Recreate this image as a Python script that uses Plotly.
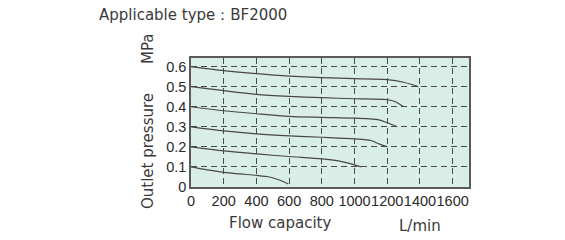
import plotly.graph_objects as go

# Data (flow L/min, outlet pressure MPa)
flow_06 = [0, 200, 400, 600, 800, 1000, 1200, 1300, 1390]
pres_06 = [0.6, 0.58, 0.565, 0.553, 0.545, 0.54, 0.535, 0.522, 0.5]

flow_05 = [0, 200, 400, 600, 800, 1000, 1200, 1250, 1300]
pres_05 = [0.5, 0.48, 0.462, 0.452, 0.445, 0.44, 0.435, 0.425, 0.4]

flow_04 = [0, 200, 400, 600, 800, 1000, 1150, 1200, 1260]
pres_04 = [0.4, 0.38, 0.365, 0.352, 0.347, 0.343, 0.335, 0.32, 0.3]

flow_03 = [0, 200, 400, 600, 800, 1000, 1100, 1150, 1200]
pres_03 = [0.3, 0.28, 0.265, 0.255, 0.248, 0.24, 0.232, 0.215, 0.2]

flow_02 = [0, 200, 400, 600, 800, 900, 980, 1040]
pres_02 = [0.2, 0.18, 0.165, 0.152, 0.14, 0.13, 0.115, 0.1]

flow_01 = [0, 100, 200, 300, 400, 480, 540, 595]
pres_01 = [0.1, 0.085, 0.073, 0.065, 0.058, 0.05, 0.035, 0.015]

x_ticks = [0, 200, 400, 600, 800, 1000, 1200, 1400, 1600]
y_ticks = [0, 0.1, 0.2, 0.3, 0.4, 0.5, 0.6]
y_tick_labels = ["0", "0.1", "0.2", "0.3", "0.4", "0.5", "0.6"]

series = [(flow_06, pres_06), (flow_05, pres_05), (flow_04, pres_04),
          (flow_03, pres_03), (flow_02, pres_02), (flow_01, pres_01)]

fig = go.Figure()
for fx, py in series:
    fig.add_trace(go.Scatter(x=fx, y=py, mode="lines",
                             line=dict(color="#474747", width=1.2, shape="spline", smoothing=0.8),
                             showlegend=False, hoverinfo="skip"))

tick_font = dict(family="Liberation Sans, Arial, sans-serif", size=14.5, color="#2a2a2a")
title_font = dict(family="DejaVu Sans, sans-serif", size=15, color="#3a3a3a")

fig.update_layout(
    width=565, height=240,
    margin=dict(l=191, r=96, t=58, b=53, pad=0),
    paper_bgcolor="white",
    plot_bgcolor="#daeee8",
    xaxis=dict(range=[0, 1700], tickvals=x_ticks, ticktext=[str(v) for v in x_ticks],
               tickangle=0, ticks="", tickfont=tick_font,
               showgrid=True, gridcolor="#4a4a4a", gridwidth=1.2, griddash="6px,4px",
               zeroline=False, showline=True, linecolor="#5a5a5a", linewidth=1.5, mirror=True),
    yaxis=dict(range=[0, 0.643], tickvals=y_ticks, ticktext=y_tick_labels,
               ticks="", tickfont=tick_font,
               showgrid=True, gridcolor="#4a4a4a", gridwidth=1.2, griddash="6px,4px",
               zeroline=False, showline=True, linecolor="#5a5a5a", linewidth=1.5, mirror=True),
    annotations=[
        dict(text="Applicable type：BF2000", x=97, y=15, xref="paper", yref="paper",
             showarrow=False, font=title_font, xanchor="left", yanchor="middle"),
        dict(text="Flow capacity", x=280, y=223, showarrow=False, font=title_font,
             xanchor="center", yanchor="middle"),
        dict(text="L/min", x=420, y=226, showarrow=False, font=title_font,
             xanchor="center", yanchor="middle"),
        dict(text="Outlet pressure", x=148, y=151, showarrow=False, font=title_font,
             textangle=-90, xanchor="center", yanchor="middle"),
        dict(text="MPa", x=148, y=49, showarrow=False, font=title_font,
             textangle=-90, xanchor="center", yanchor="middle"),
    ],
)

# convert pixel-positioned annotations to paper coordinates
W, H = 565, 240
l, r, t, b = 191, 96, 58, 53
pw, ph = W - l - r, H - t - b
new_ann = []
for a in fig.layout.annotations:
    px, py = a.x, a.y
    a.update(xref="paper", yref="paper", x=(px - l) / pw, y=(H - b - py) / ph)
    new_ann.append(a)
fig.layout.annotations = new_ann

fig.write_html("out.html")
